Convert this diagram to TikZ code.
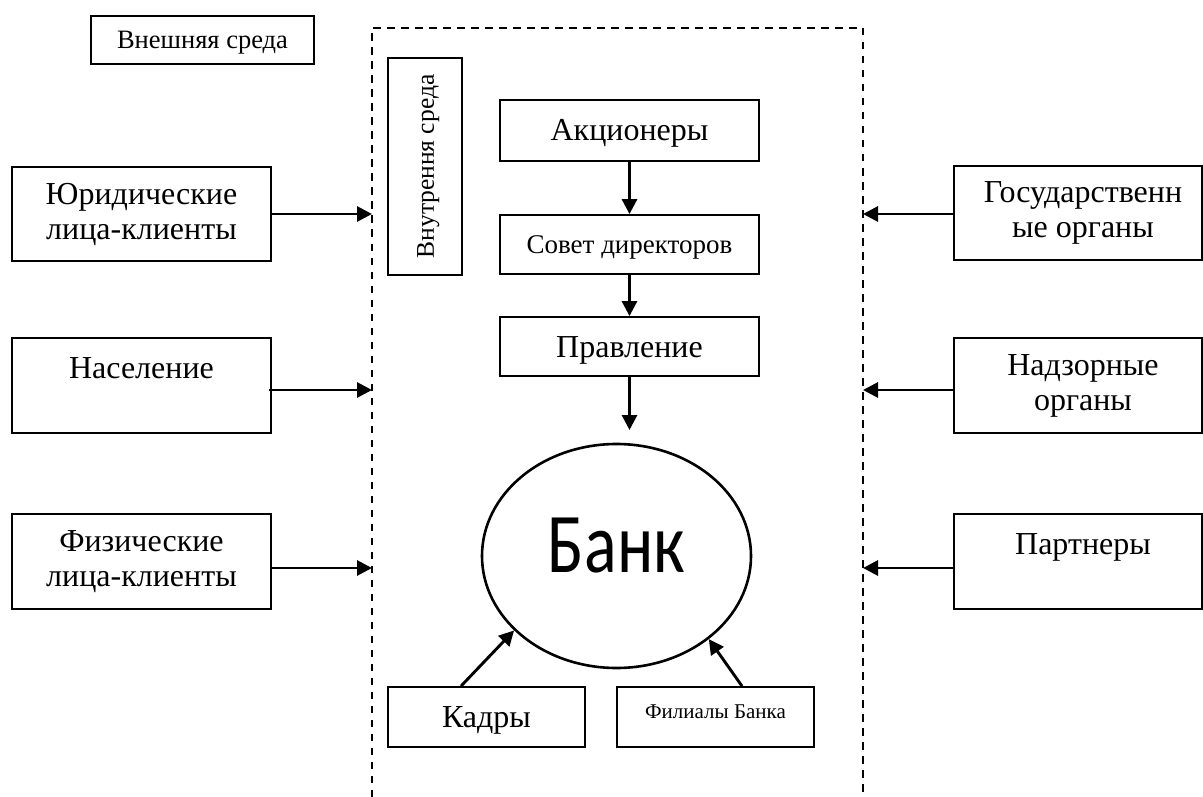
\documentclass[tikz,border=0pt]{standalone}
\usepackage{fontspec}
\setmainfont{Liberation Serif}
\newfontfamily\bankfont{Carlito}
\usetikzlibrary{arrows.meta,shapes.geometric}

\begin{document}
\begin{tikzpicture}[x=1pt,y=-1pt,
  box/.style={draw, line width=1.8pt, align=center, inner sep=0pt},
  big/.style={font=\fontsize{32}{35}\selectfont, text height=21pt, text depth=0pt},
  twoline/.style={font=\fontsize{32}{35}\selectfont},
  mid/.style={font=\fontsize{26.5}{30}\selectfont, text height=17.5pt, text depth=0pt},
  link/.style={line width=2.9pt, -{Triangle[length=15pt,width=15pt]}},
  border/.style={line width=1.8pt, dash pattern=on 7.5pt off 6.5pt}]
\useasboundingbox (0,0) rectangle (1203,797);

% boundary of the bank's internal environment
\draw[border] (372,797) -- (372,28) -- (863,28) -- (863,797);

% labels of the two environments
\node[box, mid, minimum width=223pt, minimum height=48pt] (outer) at (202.5,40) {Внешняя среда};
\node[box, mid, rotate=90, font=\fontsize{25.5}{30}\selectfont, minimum width=217pt, minimum height=74pt] (inner) at (425,166.5) {Внутрення среда};

% governance chain
\node[box, big, minimum width=259pt, minimum height=61pt] (akts) at (629.5,130.5) {Акционеры};
\node[box, font=\fontsize{27}{31}\selectfont, text height=18pt, text depth=0pt, minimum width=259pt, minimum height=59pt] (sovet) at (629.5,244.5) {Совет директоров};
\node[box, big, minimum width=259pt, minimum height=59pt] (pravl) at (629.5,346.5) {Правление};
\coordinate (pend) at (629.5,430);

% the bank
\node[draw, line width=2.6pt, ellipse, minimum width=269pt, minimum height=224pt, inner sep=0pt,
      font=\bankfont\fontsize{85}{90}\selectfont, text height=55pt, text depth=23pt] (bank) at (616.5,556) {\scalebox{0.8}[1]{Банк}};

% internal resources
\node[box, big, minimum width=197pt, minimum height=60pt] (kadry) at (486.5,717) {Кадры};
\node[box, font=\fontsize{21}{25}\selectfont, text height=14pt, text depth=12pt, minimum width=197pt, minimum height=60pt] (filialy) at (715.5,717) {Филиалы Банка};

% external parties, left
\node[box, twoline, minimum width=259pt, minimum height=94pt] (yur) at (141.5,214) {Юридические\\лица-клиенты};
\node[box, twoline, minimum width=259pt, minimum height=95pt] (nas) at (141.5,385.5) {Население\\~};
\node[box, twoline, minimum width=259pt, minimum height=95pt] (fiz) at (141.5,561.5) {Физические\\лица-клиенты};

% external parties, right
\node[box, twoline, minimum width=248pt, minimum height=94pt] (gos) at (1078,213) {\hspace*{10pt}Государственн\\\hspace*{10pt}ые органы};
\node[box, twoline, minimum width=248pt, minimum height=95pt] (nadz) at (1078,385.5) {\hspace*{10pt}Надзорные\\\hspace*{10pt}органы};
\node[box, twoline, minimum width=248pt, minimum height=95pt] (partn) at (1078,561.5) {\hspace*{10pt}Партнеры\\~};

% points on the boundary
\coordinate (inL1) at (372,214);
\coordinate (inL2) at (372,390);
\coordinate (inL3) at (372,568);
\coordinate (inR1) at (863,214);
\coordinate (inR2) at (863,390);
\coordinate (inR3) at (863,568);

% connectors
\draw[link] (yur.east |- inL1) -- (inL1);
\draw[link] ([xshift=-3pt]nas.east |- inL2) -- (inL2);
\draw[link] (fiz.east |- inL3) -- (inL3);
\draw[link] (gos.west |- inR1) -- (inR1);
\draw[link] (nadz.west |- inR2) -- (inR2);
\draw[link] (partn.west |- inR3) -- (inR3);

\draw[link] (akts) -- (sovet);
\draw[link] (sovet) -- (pravl);
\draw[link] (pravl) -- (pend);

\draw[link] ([xshift=-25.5pt]kadry.north) -- (bank.216);
\draw[link] ([xshift=26.5pt]filialy.north) -- (bank.318);
\end{tikzpicture}
\end{document}
